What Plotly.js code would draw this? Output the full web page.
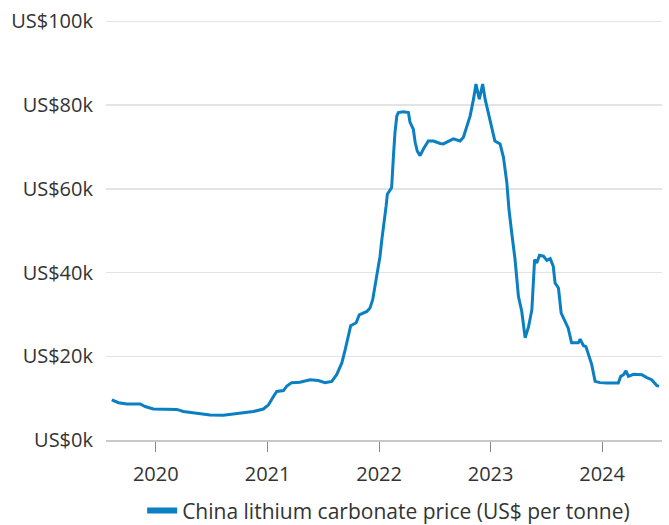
<!DOCTYPE html>
<html>
<head>
<meta charset="utf-8">
<script src="https://cdn.plot.ly/plotly-3.0.1.min.js"></script>
<style>html,body{margin:0;padding:0;background:#fff;}#chart{width:669px;height:525px;}</style>
</head>
<body>
<div id="chart"></div>
<script>
const dates = [
"2019-08-10","2019-09-01","2019-09-28","2019-11-11","2019-11-27","2019-12-24",
"2020-03-10","2020-03-31","2020-05-14","2020-06-27","2020-08-09","2020-10-14","2020-11-15","2020-12-18",
"2021-01-04","2021-01-20","2021-01-31","2021-02-22","2021-03-05","2021-03-21","2021-04-17","2021-05-20",
"2021-06-16","2021-07-08","2021-07-30","2021-08-15","2021-09-01","2021-09-12","2021-09-22","2021-09-30",
"2021-10-18","2021-10-28","2021-11-22","2021-12-02","2021-12-11","2021-12-19","2021-12-30",
"2022-01-04","2022-01-10","2022-01-17","2022-01-24","2022-01-28","2022-02-11","2022-02-17","2022-02-22",
"2022-02-28","2022-03-05","2022-03-21","2022-04-07","2022-04-12","2022-04-23","2022-04-29","2022-05-06",
"2022-05-15","2022-05-26","2022-06-11","2022-06-28","2022-07-20","2022-07-30","2022-09-01","2022-09-23",
"2022-10-04","2022-10-15","2022-10-26","2022-11-06","2022-11-14","2022-11-25","2022-12-06","2022-12-14",
"2022-12-25","2023-01-05","2023-01-15","2023-02-01","2023-02-12","2023-02-23","2023-03-02","2023-03-11",
"2023-03-22","2023-04-02","2023-04-13","2023-04-24","2023-05-05","2023-05-16","2023-05-25","2023-06-01",
"2023-06-10","2023-06-23","2023-07-04","2023-07-15","2023-07-25","2023-07-31","2023-08-11","2023-08-20",
"2023-09-02","2023-09-12","2023-09-23","2023-10-15","2023-10-21","2023-11-01","2023-11-09","2023-11-17",
"2023-11-28","2023-12-09","2023-12-25","2024-01-16","2024-02-07","2024-02-23","2024-03-02","2024-03-11",
"2024-03-19","2024-03-27","2024-04-13","2024-05-10","2024-05-26","2024-06-11","2024-06-28","2024-07-05"
];
const prices = [
9600,8900,8600,8600,8000,7400,
7300,6800,6400,6000,5900,6400,6800,7400,
8400,10400,11600,11800,12900,13700,13800,14400,
14200,13700,14000,15600,18400,21600,25000,27300,
28000,29900,30700,31500,33500,37100,41900,
43900,47900,51500,55900,58700,60300,67900,73500,
77400,78200,78400,78200,75900,74200,71100,69000,
67900,69500,71400,71400,70800,70700,71900,71400,
72300,74700,77400,81400,85000,81400,85000,81400,
78200,75000,71400,70700,67500,61500,55100,49500,
43100,34300,30700,24400,27000,31100,43100,42300,
44100,43900,42900,43300,41500,37500,36300,30300,
28300,26700,23200,23200,24100,22500,22300,20400,
18000,14000,13700,13600,13700,13600,15200,15600,
16500,15200,15700,15600,14900,14400,13000,12800
];
const yTickVals = [0,20000,40000,60000,80000,100000];
const yTickText = ["US$0k","US$20k","US$40k","US$60k","US$80k","US$100k"];
const xTickVals = ["2020-01-01","2021-01-01","2022-01-01","2023-01-01","2024-01-01"];
const xTickText = ["2020","2021","2022","2023","2024"];
const seriesName = "China lithium carbonate price (US$ per tonne)";

const color = "#0a7fc2";
const font = "'Open Sans', sans-serif";

const traces = [
  {x: dates, y: prices, type: "scatter", mode: "lines", line: {color: color, width: 3}, showlegend: false, hoverinfo: "x+y"},
  {x: [null], y: [null], type: "scatter", mode: "lines", line: {color: color, width: 6}, name: seriesName, showlegend: true}
];

const layout = {
  width: 669, height: 525,
  margin: {l: 106, r: 7, t: 20, b: 85},
  paper_bgcolor: "#fff", plot_bgcolor: "#fff",
  font: {family: font, size: 20, color: "#333"},
  showlegend: true,
  legend: {orientation: "h", x: 0.065, xanchor: "left", yref: "container", y: 0.027, yanchor: "middle", font: {size: 21, color: "#333"}, bgcolor: "rgba(0,0,0,0)"},
  xaxis: {
    type: "date", range: ["2019-07-22", "2024-07-15"],
    tickvals: xTickVals, ticktext: xTickText,
    showgrid: false, zeroline: false,
    showline: true, linecolor: "#c8c8c8", linewidth: 1.5,
    ticks: "outside", ticklen: 10, tickcolor: "#888", tickwidth: 1,
    ticklabelstandoff: 5,
    tickfont: {size: 20, color: "#333"}
  },
  yaxis: {
    range: [0, 100300], tickvals: yTickVals, ticktext: yTickText,
    showgrid: true, gridcolor: "#e3e3e3", gridwidth: 1.5,
    zeroline: false, showline: false, ticks: "outside", ticklen: 8, tickcolor: "rgba(0,0,0,0)",
    tickfont: {size: 20, color: "#333"}
  }
};

Plotly.newPlot("chart", traces, layout, {displayModeBar: false, staticPlot: true});
</script>
</body>
</html>
